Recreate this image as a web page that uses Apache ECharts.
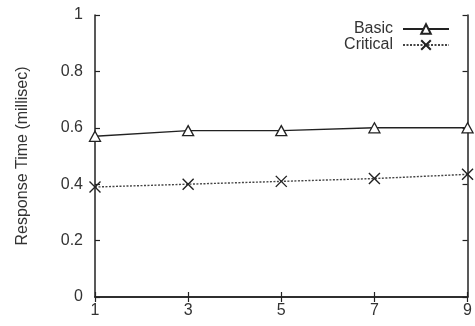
<!DOCTYPE html>
<html>
<head>
<meta charset="utf-8">
<script src="https://cdn.jsdelivr.net/npm/echarts@6/dist/echarts.min.js"></script>
<style>
  html, body { margin: 0; padding: 0; background: #fff; }
  #chart { width: 475px; height: 326px; }
</style>
</head>
<body>
<div id="chart"></div>
<script>
// Response time per configuration step, two request classes
const xValues = [1, 3, 5, 7, 9];
const basicTimes = [0.57, 0.59, 0.59, 0.60, 0.60];
const criticalTimes = [0.39, 0.40, 0.41, 0.42, 0.435];
const seriesNames = ['Basic', 'Critical'];
const yAxisTitle = 'Response Time (millisec)';

const ink = '#222';
const textInk = '#333';
const font = 'Liberation Sans, Arial, sans-serif';
const fontSize = 16;
const crossPath = 'path://M0,0L10,10M10,0L0,10';

const pairs = (ys) => xValues.map((x, i) => [x, ys[i]]);

const chart = echarts.init(document.getElementById('chart'));

const frameAxis = (extra) => Object.assign({
  type: 'value',
  axisLine: { show: true, lineStyle: { color: ink, width: 1.5 } },
  axisTick: { show: true, inside: true, length: 5, lineStyle: { color: ink, width: 1.2 } },
  splitLine: { show: false },
  axisLabel: { show: false }
}, extra);

chart.setOption({
  animation: false,
  backgroundColor: '#fff',
  grid: { left: 95, right: 3, top: 15, bottom: 29, containLabel: false },
  legend: {
    orient: 'vertical',
    right: 25,
    top: 21,
    align: 'right',
    itemWidth: 46,
    itemHeight: 12,
    itemGap: 0,
    padding: 0,
    textStyle: { fontFamily: font, fontSize: fontSize, color: textInk, padding: [0, 5, 0, 0] },
    data: seriesNames
  },
  xAxis: [
    frameAxis({
      position: 'bottom', min: 1, max: 9, interval: 2,
      axisLabel: { show: true, fontFamily: font, fontSize: fontSize, color: textInk, margin: 6 }
    }),
    frameAxis({ position: 'top', min: 1, max: 9, interval: 2 })
  ],
  yAxis: [
    frameAxis({
      position: 'left', min: 0, max: 1, interval: 0.2,
      name: yAxisTitle, nameLocation: 'middle', nameGap: 64,
      nameTextStyle: { fontFamily: font, fontSize: fontSize, color: textInk },
      axisLabel: { show: true, fontFamily: font, fontSize: fontSize, color: textInk, margin: 12 }
    }),
    frameAxis({ position: 'right', min: 0, max: 1, interval: 0.2 })
  ],
  series: [
    {
      name: seriesNames[0],
      type: 'line',
      data: pairs(basicTimes),
      symbol: 'triangle',
      symbolSize: [11, 10],
      lineStyle: { color: ink, width: 1.4, type: 'solid' },
      itemStyle: { color: '#fff', borderColor: ink, borderWidth: 1.3 }
    },
    {
      name: seriesNames[1],
      type: 'line',
      data: pairs(criticalTimes),
      symbol: crossPath,
      symbolSize: 11,
      lineStyle: { color: '#444', width: 1.4, type: [2, 1.5] },
      itemStyle: { color: 'transparent', borderColor: ink, borderWidth: 1.4 }
    }
  ]
});
</script>
</body>
</html>
